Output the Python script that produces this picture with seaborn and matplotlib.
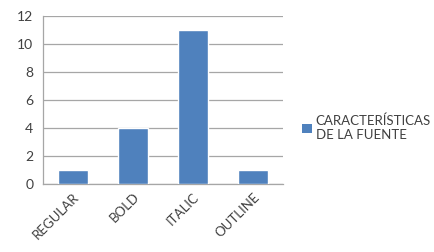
import matplotlib
matplotlib.use("Agg")
import matplotlib.pyplot as plt
import seaborn as sns
import pandas as pd
from matplotlib.patches import Patch
from matplotlib.ticker import FixedLocator

categories = ["REGULAR", "BOLD", "ITALIC", "OUTLINE"]
values = [1, 4, 11, 1]
series_name = "CARACTERÍSTICAS\nDE LA FUENTE"
y_ticks = [0, 2, 4, 6, 8, 10, 12]

BAR_COLOR = "#4F81BD"
GRID_COLOR = "#A6A6A6"
TEXT_COLOR = "#404040"

sns.set_style("white")
plt.rcParams["font.family"] = ["Lato", "DejaVu Sans"]

df = pd.DataFrame({"categoria": categories, "valor": values})

fig = plt.figure(figsize=(4.34, 2.52), dpi=100)
ax = fig.add_axes([43 / 434, 1 - 184 / 252, 240 / 434, 168 / 252])

sns.barplot(data=df, x="categoria", y="valor", color=BAR_COLOR,
            width=0.49, saturation=1, ax=ax, zorder=3)

ax.set_xlim(-0.5, len(categories) - 0.5)
ax.set_ylim(0, 12)
ax.set_yticks(y_ticks)
ax.yaxis.grid(True, color=GRID_COLOR, linewidth=0.9, zorder=0)
ax.set_axisbelow(True)
ax.set_xlabel("")
ax.set_ylabel("")

for side in ("top", "right"):
    ax.spines[side].set_visible(False)
for side in ("left", "bottom"):
    ax.spines[side].set_color(GRID_COLOR)
    ax.spines[side].set_linewidth(0.9)

ax.tick_params(axis="y", length=4, color=GRID_COLOR, labelsize=10,
               labelcolor=TEXT_COLOR, pad=3)
ax.tick_params(axis="x", which="major", length=0, labelsize=9.5,
               labelcolor=TEXT_COLOR, pad=5)
ax.xaxis.set_minor_locator(FixedLocator([i - 0.5 for i in range(len(categories) + 1)]))
ax.tick_params(axis="x", which="minor", length=4, color=GRID_COLOR)
plt.setp(ax.get_xticklabels(), rotation=45, ha="right", rotation_mode="anchor")

handle = Patch(facecolor=BAR_COLOR, edgecolor="none")
fig.legend([handle], [series_name], loc="center left",
           bbox_to_anchor=(290 / 434, 1 - 128 / 252), frameon=False,
           fontsize=9.5, handlelength=0.75, handleheight=0.75, handletextpad=0.3,
           labelcolor=TEXT_COLOR, labelspacing=0.2)

fig.savefig("out.png", dpi=100)
